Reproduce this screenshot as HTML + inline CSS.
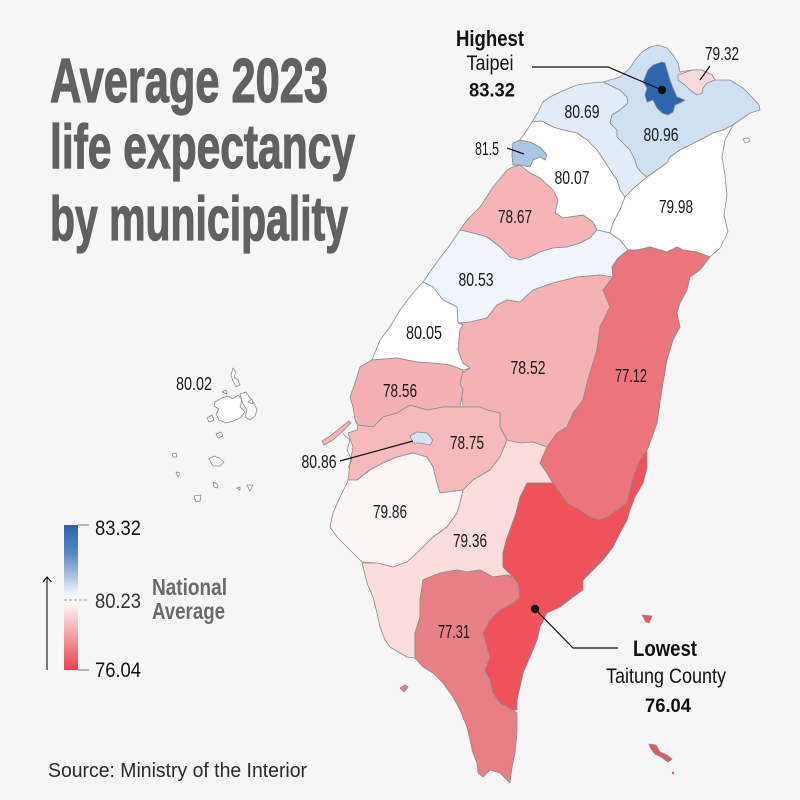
<!DOCTYPE html>
<html><head><meta charset="utf-8"><style>
html,body{margin:0;padding:0;background:#f6f6f6;}
svg{display:block;}
</style></head><body>
<svg width="800" height="800" viewBox="0 0 800 800" xmlns="http://www.w3.org/2000/svg">
<defs>
<linearGradient id="lg" x1="0" y1="0" x2="0" y2="1">
<stop offset="0" stop-color="#2c63ab"/>
<stop offset="0.2" stop-color="#5a88c3"/>
<stop offset="0.46" stop-color="#e6eef8"/>
<stop offset="0.52" stop-color="#ffffff"/>
<stop offset="0.57" stop-color="#fdeaec"/>
<stop offset="1" stop-color="#e8414d"/>
</linearGradient>
</defs>
<rect width="800" height="800" fill="#f6f6f6"/>

<!-- Title -->
<g font-family="Liberation Sans, sans-serif" font-weight="bold" fill="#616161" stroke="#616161" stroke-width="1.3" font-size="62">
<text x="50" y="102" textLength="278" lengthAdjust="spacingAndGlyphs">Average 2023</text>
<text x="50" y="168" textLength="305" lengthAdjust="spacingAndGlyphs">life expectancy</text>
<text x="50" y="240" textLength="298" lengthAdjust="spacingAndGlyphs">by municipality</text>
</g>

<!-- Map -->
<g stroke="#8c8c8c" stroke-width="0.8" stroke-linejoin="round">
<polygon fill="#e1ecf8" points="603,82 590,83 577,85 560,92 550,97 543,102 538,112 532,122 542,121 553,127 563,130 577,133 587,140 597,150 605,162 610,170 617,180 620,190 625,197 635,187 647,177 642,173 637,167 635,160 630,150 623,143 617,137 617,130 610,123 612,115 620,110 628,103 627,97 620,90"/>
<polygon fill="#cfe0f3" points="603,82 620,77 630,68 635,60 642,52 650,47 658,45 667,48 673,55 678,63 680,72 692,70 702,70 712,75 715,80 730,80 743,88 752,97 759,105 760,110 750,113 740,120 733,125 723,130 713,133 700,140 690,145 680,150 670,157 667,163 657,170 647,177 642,173 637,167 635,160 630,150 623,143 617,137 617,130 610,123 612,115 620,110 628,103 627,97 620,90"/>
<polygon fill="#fbd8d9" points="678,75 692,70 702,70 712,75 715,80 707,83 703,88 702,93 697,95 690,90 685,85 678,80"/>
<polygon fill="#2e65ae" points="643,82 648,70 653,65 662,62 665,63 667,70 670,80 673,88 677,97 685,100 680,103 675,105 673,112 668,115 662,113 657,108 653,100 647,102 645,95 647,88"/>
<polygon fill="#ffffff" points="532,122 542,121 553,127 563,130 577,133 587,140 597,150 605,162 610,170 617,180 620,190 625,197 620,210 613,223 610,233 597,230 593,222 583,215 563,218 555,213 558,200 553,190 540,178 530,173 520,165 513,165 512,155 513,143 520,140 527,130"/>
<polygon fill="#a9c6e5" points="513,143 520,140 530,142 540,147 547,155 545,160 540,157 533,160 530,167 520,165 513,165 512,155"/>
<polygon fill="#f5b4b7" points="513,167 520,165 530,173 540,178 553,190 558,200 555,213 563,218 583,215 593,222 597,230 590,238 580,243 567,247 553,248 540,252 530,257 520,260 510,257 500,247 487,237 473,233 460,230 467,220 480,207 493,187 507,170"/>
<polygon fill="#ffffff" points="733,125 723,130 713,133 700,140 690,145 680,150 670,157 667,163 657,170 647,177 635,187 625,197 620,210 613,223 610,233 620,240 628,250 637,250 650,247 667,252 677,247 683,250 697,252 710,257 720,248 728,232 724,215 727,195 725,175 722,157 725,140"/>
<polygon fill="#eef5fc" points="460,230 473,233 487,237 500,247 510,257 520,260 530,257 540,252 553,248 567,247 580,243 590,238 597,230 610,233 620,240 628,250 618,258 612,267 613,277 600,275 577,277 553,283 533,290 520,302 507,300 497,305 487,318 470,322 460,323 458,323 457,307 443,300 433,287 423,282 437,262 450,245"/>
<polygon fill="#ffffff" points="423,282 433,287 443,300 457,307 458,323 463,325 460,330 458,350 463,363 470,368 463,370 450,365 433,363 417,362 397,358 372,360 380,340 390,327 400,310 413,293"/>
<polygon fill="#f5b2b5" points="460,323 470,322 487,318 497,305 507,300 520,302 533,290 553,283 577,277 600,275 613,277 603,290 610,307 600,327 597,350 590,373 587,383 583,400 573,413 567,427 557,433 547,447 533,442 520,443 507,440 500,427 500,413 487,410 480,407 463,407 460,383 463,372 470,368 463,363 458,350 460,330 463,325"/>
<polygon fill="#f4b0b3" points="372,360 397,358 417,362 433,363 450,365 463,370 463,372 460,383 463,390 460,407 443,407 427,410 410,405 397,413 383,417 373,427 358,425 355,420 353,407 350,397 355,383 360,367"/>
<polygon fill="#f6b9bc" points="358,425 373,427 383,417 397,413 410,405 427,410 443,407 460,407 480,407 487,410 500,413 500,427 507,440 500,457 490,470 473,480 463,490 440,493 437,483 433,467 427,457 413,453 397,457 383,463 370,470 357,480 348,480 350,463 353,447 348,433 357,430"/>
<polygon fill="#d4e4f5" points="410,436 417,432 427,433 433,440 430,445 420,443 413,443"/>
<polygon fill="#fdf4f5" points="348,480 357,480 370,470 383,463 397,457 413,453 427,457 433,467 437,483 440,493 463,490 460,503 457,513 447,527 433,537 420,550 407,562 393,567 377,563 362,562 350,550 337,537 330,527 333,513 340,497 347,483"/>
<polygon fill="#fbdcdd" points="507,440 520,443 533,442 547,447 540,463 547,473 553,483 527,483 520,497 516,513 511,527 506,541 503,553 503,567 513,577 507,575 493,577 480,570 467,572 457,570 440,573 423,580 420,600 420,617 415,633 415,658 407,657 400,653 390,647 385,640 380,627 377,613 373,597 367,583 362,563 377,563 393,567 407,562 420,550 433,537 447,527 457,513 460,503 463,490 473,480 490,470 500,457"/>
<polygon fill="#e97f86" points="423,580 440,573 457,570 467,572 480,570 493,577 507,575 513,577 518,583 520,597 513,603 500,610 490,620 483,633 487,647 490,657 485,670 490,680 493,693 500,703 513,710 517,713 517,733 515,753 512,767 510,783 505,778 500,773 490,770 483,777 478,773 477,763 473,753 470,740 467,727 460,710 453,697 443,683 433,673 423,667 415,658 415,633 420,617 420,600"/>
<polygon fill="#f0525c" points="527,483 553,483 560,493 567,503 580,510 590,517 600,520 607,517 617,510 627,503 630,490 633,477 640,460 647,450 647,468 643,483 635,497 630,510 627,520 620,533 613,547 603,560 590,573 583,580 583,590 573,597 560,607 547,613 540,627 537,640 530,657 523,673 520,687 517,700 517,710 513,710 500,703 493,693 490,680 485,670 490,657 487,647 483,633 490,620 500,610 513,603 520,597 518,583 513,577 503,567 503,553 506,541 511,527 516,513 520,497"/>
<polygon fill="#ec747b" points="628,250 637,250 650,247 667,252 677,247 683,250 697,252 710,257 700,270 690,277 687,290 680,303 677,313 680,327 673,340 667,360 663,383 660,403 657,423 650,443 647,450 640,460 633,477 630,490 627,503 617,510 607,517 600,520 590,517 580,510 567,503 560,493 553,483 547,473 540,463 547,447 557,433 567,427 573,413 583,400 587,383 590,373 597,350 600,327 610,307 603,290 613,277 612,267 618,258"/>

<polygon fill="#f4b3b6" points="322,441 330,436 340,428 349,421 351,423 343,431 333,440 324,445"/>
<path fill="none" d="M343,434 L350,440 L347,450 L352,460 L348,468"/>
<polygon fill="#e97f86" points="400,688 405,685 408,687 404,692"/>
<polygon fill="#f0525c" points="642,615 652,616 649,623 646,622"/>
<polygon fill="#f0525c" points="649,744 656,745 660,752 667,755 672,759 668,762 661,757 655,754 651,749"/>
<circle cx="673" cy="773" r="1.2" fill="#f0525c" stroke="none"/>
<polygon fill="#ffffff" points="743,139 748,138 750,141 745,143"/>
</g>

<!-- Penghu -->
<g fill="#ffffff" stroke="#8a8a8a" stroke-width="0.8" stroke-linejoin="round">
<path d="M233,368 L236,372 L234,377 L238,380 L240,385 L236,387 L233,381 L231,375 Z"/>
<path d="M215,402 L222,398 L228,396 L233,399 L238,395 L242,400 L240,407 L245,412 L240,418 L233,421 L226,423 L219,420 L216,414 L219,409 L214,406 Z"/>
<path d="M240,394 L246,392 L250,398 L254,403 L257,410 L255,416 L250,420 L245,417 L247,410 L243,404 Z"/>
<path d="M207,418 L212,415 L214,420 L209,422 Z"/>
<path d="M216,434 L221,432 L223,436 L218,438 Z"/>
<path d="M209,459 L214,456 L219,458 L224,462 L220,466 L213,466 Z"/>
<path d="M172,454 L176,453 L177,457 L173,457 Z"/>
<path d="M176,472 L180,473 L178,477 Z"/>
<path d="M213,482 L217,484 L218,488 L214,487 Z"/>
<path d="M237,488 L240,487 L240,490 Z"/>
<path d="M247,485 L253,485 L250,491 Z"/>
<path d="M194,496 L201,495 L200,501 L196,502 Z"/>
<path d="M248,402 L252,399 L253,404 Z"/>
<path d="M222,392 L226,390 L227,394 Z"/>
</g>

<!-- Leader lines -->
<g stroke="#111" stroke-width="1.2" fill="none">
<polyline points="532,67 608,67 662,90"/>
<line x1="700" y1="80" x2="710" y2="66"/>
<line x1="507" y1="148" x2="524" y2="154"/>
<line x1="340" y1="461" x2="413" y2="441"/>
<polyline points="535,609 573,648 618,648"/>
</g>
<circle cx="662" cy="90" r="4.2" fill="#111"/>
<circle cx="535" cy="609" r="4.2" fill="#111"/>

<!-- Region labels -->
<g font-family="Liberation Sans, sans-serif" font-size="18.5" fill="#1a1a1a" text-anchor="middle">
<text x="722" y="60" textLength="34" lengthAdjust="spacingAndGlyphs">79.32</text>
<text x="582" y="118" textLength="35" lengthAdjust="spacingAndGlyphs">80.69</text>
<text x="661" y="141" textLength="35" lengthAdjust="spacingAndGlyphs">80.96</text>
<text x="487" y="155" textLength="24" lengthAdjust="spacingAndGlyphs">81.5</text>
<text x="572" y="184" textLength="35" lengthAdjust="spacingAndGlyphs">80.07</text>
<text x="676" y="213" textLength="34" lengthAdjust="spacingAndGlyphs">79.98</text>
<text x="515" y="223" textLength="34" lengthAdjust="spacingAndGlyphs">78.67</text>
<text x="476" y="286" textLength="35" lengthAdjust="spacingAndGlyphs">80.53</text>
<text x="424" y="339" textLength="36" lengthAdjust="spacingAndGlyphs">80.05</text>
<text x="528" y="374" textLength="35" lengthAdjust="spacingAndGlyphs">78.52</text>
<text x="631" y="382" textLength="32" lengthAdjust="spacingAndGlyphs">77.12</text>
<text x="400" y="397" textLength="34" lengthAdjust="spacingAndGlyphs">78.56</text>
<text x="467" y="449" textLength="34" lengthAdjust="spacingAndGlyphs">78.75</text>
<text x="319" y="468" textLength="35" lengthAdjust="spacingAndGlyphs">80.86</text>
<text x="390" y="518" textLength="34" lengthAdjust="spacingAndGlyphs">79.86</text>
<text x="470" y="547" textLength="34" lengthAdjust="spacingAndGlyphs">79.36</text>
<text x="454" y="638" textLength="32" lengthAdjust="spacingAndGlyphs">77.31</text>
<text x="194" y="390" textLength="36" lengthAdjust="spacingAndGlyphs">80.02</text>
</g>

<!-- Annotations -->
<g font-family="Liberation Sans, sans-serif" fill="#111" text-anchor="middle">
<text x="490" y="46" font-size="22" font-weight="bold" textLength="68" lengthAdjust="spacingAndGlyphs">Highest</text>
<text x="490" y="70" font-size="21" textLength="47" lengthAdjust="spacingAndGlyphs">Taipei</text>
<text x="492" y="96.5" font-size="19" font-weight="bold" textLength="46" lengthAdjust="spacingAndGlyphs">83.32</text>
<text x="665" y="656" font-size="22" font-weight="bold" textLength="64" lengthAdjust="spacingAndGlyphs">Lowest</text>
<text x="666" y="683" font-size="21" textLength="120" lengthAdjust="spacingAndGlyphs">Taitung County</text>
<text x="668" y="712" font-size="19" font-weight="bold" textLength="46" lengthAdjust="spacingAndGlyphs">76.04</text>
</g>

<!-- Legend -->
<rect x="64" y="525" width="14" height="145" fill="url(#lg)"/>
<g stroke="#777" stroke-width="1">
<line x1="78" y1="525" x2="89" y2="525"/>
<line x1="78" y1="670" x2="89" y2="670"/>
<line x1="64" y1="600" x2="89" y2="600" stroke-dasharray="3,2" stroke="#999"/>
</g>
<g stroke="#111" stroke-width="1.1" fill="none">
<line x1="47" y1="670" x2="47" y2="577"/>
<polyline points="43,582 47,577 51.5,582"/>
</g>
<g font-family="Liberation Sans, sans-serif" fill="#111" font-size="21">
<text x="95" y="535" textLength="46" lengthAdjust="spacingAndGlyphs">83.32</text>
<text x="95" y="608" textLength="46" lengthAdjust="spacingAndGlyphs" fill="#333">80.23</text>
<text x="95" y="677" textLength="46" lengthAdjust="spacingAndGlyphs">76.04</text>
</g>
<g font-family="Liberation Sans, sans-serif" font-weight="bold" fill="#6a6a6a" font-size="23">
<text x="152" y="595" textLength="75" lengthAdjust="spacingAndGlyphs">National</text>
<text x="152" y="619" textLength="73" lengthAdjust="spacingAndGlyphs">Average</text>
</g>

<!-- Source -->
<text x="48" y="777" font-family="Liberation Sans, sans-serif" font-size="20" fill="#2a2a2a" textLength="259" lengthAdjust="spacingAndGlyphs">Source: Ministry of the Interior</text>
</svg>
</body></html>
